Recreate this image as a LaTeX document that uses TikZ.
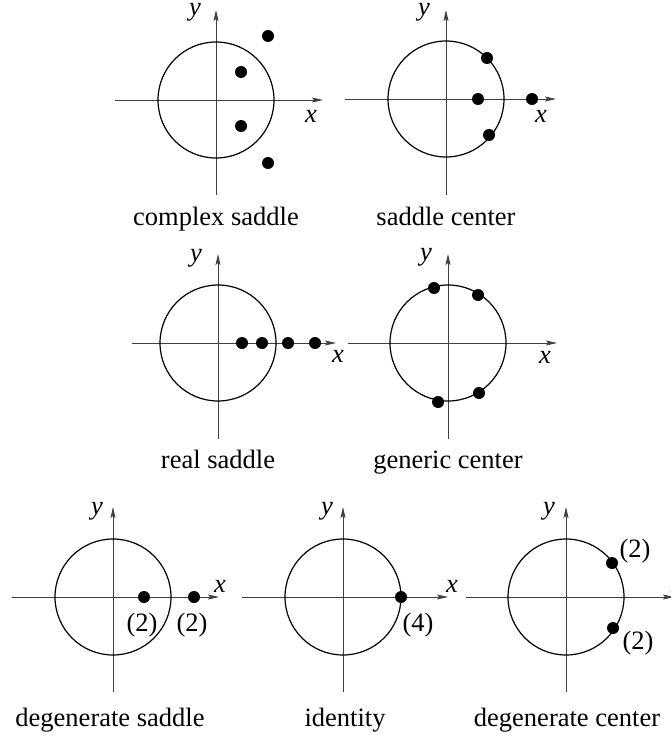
\documentclass[tikz,border=0pt]{standalone}
\usepackage{fontspec}
\setmainfont{Liberation Serif}
\usetikzlibrary{arrows.meta}
\begin{document}
\begin{tikzpicture}[x=1pt,y=-1pt,
 axis/.style={line width=0.8pt, black!75, -{Stealth[length=11pt,width=5pt,inset=2pt]}},
 unitc/.style={line width=1.2pt},
 eig/.style={circle, fill=black, inner sep=0pt, minimum size=12pt},
 lbl/.style={font=\fontsize{26.5}{30}\selectfont, inner sep=0pt, anchor=base},
 captext/.style={font=\fontsize{26.5}{30}\selectfont, inner sep=0pt, anchor=base},
 var/.style={font=\fontsize{26.5}{30}\selectfont\itshape, inner sep=0pt, anchor=base}]
\useasboundingbox (0,0) rectangle (671,738);
% Panel 1: complex saddle
\draw[axis] (115,100) -- (323,100);
\draw[axis] (216,195) -- (216,10);
\draw[unitc] (216,100) circle[radius=58pt];
\node[eig] (p1a) at (268,36) {};
\node[eig] (p1b) at (241,72) {};
\node[eig] (p1c) at (241,126) {};
\node[eig] (p1d) at (268,163) {};
\node[var] (p1y) at (195,16) {y};
\node[var] (p1x) at (311,123) {x};
\node[captext] (p1cap) at (216,225) {complex saddle};
% Panel 2: saddle center
\draw[axis] (345,99) -- (556,99);
\draw[axis] (446,195) -- (446,10);
\draw[unitc] (446,99) circle[radius=58pt];
\node[eig] (p2a) at (487,58) {};
\node[eig] (p2b) at (478,99) {};
\node[eig] (p2c) at (532,99) {};
\node[eig] (p2d) at (489,135) {};
\node[var] (p2y) at (424,16) {y};
\node[var] (p2x) at (541,123) {x};
\node[captext] (p2cap) at (446,225) {saddle center};
% Panel 3: real saddle
\draw[axis] (132,343) -- (336,343);
\draw[axis] (218,439) -- (218,254);
\draw[unitc] (218,343) circle[radius=58pt];
\node[eig] (p3a) at (242,343) {};
\node[eig] (p3b) at (262,343) {};
\node[eig] (p3c) at (288,343) {};
\node[eig] (p3d) at (315,343) {};
\node[var] (p3y) at (196,261) {y};
\node[var] (p3x) at (338,362) {x};
\node[captext] (p3cap) at (218,468) {real saddle};
% Panel 4: generic center
\draw[axis] (348,343) -- (557,343);
\draw[axis] (448,439) -- (448,254);
\draw[unitc] (448,343) circle[radius=58pt];
\node[eig] (p4a) at (434,288) {};
\node[eig] (p4b) at (478,295) {};
\node[eig] (p4c) at (438,402) {};
\node[eig] (p4d) at (479,393) {};
\node[var] (p4y) at (426,260) {y};
\node[var] (p4x) at (545,363) {x};
\node[captext] (p4cap) at (448,468) {generic center};
% Panel 5: degenerate saddle
\draw[axis] (12,597) -- (219,597);
\draw[axis] (113,692) -- (113,507);
\draw[unitc] (113,597) circle[radius=58pt];
\node[eig] (p5a) at (144,597) {};
\node[eig] (p5b) at (194,597) {};
\node[lbl] (p5la) at (142,631) {(2)};
\node[lbl] (p5lb) at (192,631) {(2)};
\node[var] (p5y) at (97,514) {y};
\node[var] (p5x) at (220,592) {x};
\node[captext] (p5cap) at (110,726) {degenerate saddle};
% Panel 6: identity
\draw[axis] (242,597) -- (448,597);
\draw[axis] (343,692) -- (343,507);
\draw[unitc] (343,597) circle[radius=58pt];
\node[eig] (p6a) at (401,597) {};
\node[lbl] (p6l) at (418,631) {(4)};
\node[var] (p6y) at (327,514) {y};
\node[var] (p6x) at (452,592) {x};
\node[captext] (p6cap) at (345,726) {identity};
% Panel 7: degenerate center
\draw[axis] (466,597) -- (674,597);
\draw[axis] (566,692) -- (566,507);
\draw[unitc] (566,597) circle[radius=58pt];
\node[eig] (p7a) at (612,563) {};
\node[eig] (p7b) at (613,628) {};
\node[lbl] (p7la) at (635,557) {(2)};
\node[lbl] (p7lb) at (638,649) {(2)};
\node[var] (p7y) at (549,514) {y};
\node[var] (p7x) at (677,592) {x};
\node[captext] (p7cap) at (567,726) {degenerate center};
\end{tikzpicture}
\end{document}
